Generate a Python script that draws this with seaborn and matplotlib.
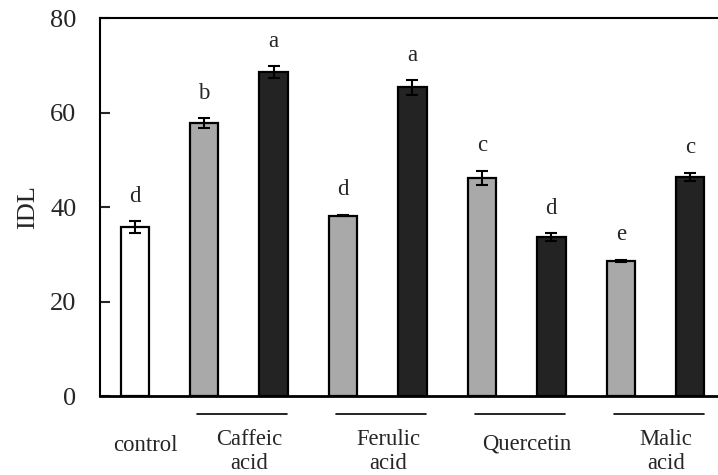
import pandas as pd
import matplotlib
matplotlib.use("Agg")
from matplotlib import pyplot as plt
import seaborn as sns

sns.set_style("white")
plt.rcParams["font.family"] = ["Liberation Serif", "DejaVu Serif"]

# bar data
bars = ["control", "caf_1", "caf_2", "fer_1", "fer_2", "que_1", "que_2", "mal_1", "mal_2"]
kind = ["control", "low", "high", "low", "high", "low", "high", "low", "high"]
idl = [35.8, 57.8, 68.6, 38.2, 65.3, 46.2, 33.6, 28.6, 46.3]
err = [1.2, 1.0, 1.2, 0.2, 1.5, 1.5, 0.8, 0.2, 0.9]
letters = ["d", "b", "a", "d", "a", "c", "d", "e", "c"]

# x axis group labels
group_names = ["Caffeic\nacid", "Ferulic\nacid", "Quercetin", "Malic\nacid"]
group_first_bar = [1, 3, 5, 7]

df = pd.DataFrame({"bar": bars, "kind": kind, "IDL": idl})
colors = {"control": "white", "low": "#a9a9a9", "high": "#232323"}

fig = plt.figure(figsize=(7.18, 4.75), dpi=100)
ax = fig.add_axes([0.1393, 0.1663, 0.8607, 0.7958])

sns.barplot(data=df, x="bar", y="IDL", hue="kind", order=bars, palette=colors,
            dodge=False, width=0.41, edgecolor="black", linewidth=1.6,
            legend=False, ax=ax)
ax.errorbar(range(len(bars)), idl, yerr=err, fmt="none", ecolor="black",
            elinewidth=1.5, capsize=4.5, capthick=1.5)

for i, (v, e, t) in enumerate(zip(idl, err, letters)):
    ax.text(i, v + e + 5.3, t, ha="center", va="center", fontsize=16.5)

ax.set_xlim(-0.5, 8.4)
ax.set_ylim(0, 80)
ax.set_yticks([0, 20, 40, 60, 80])
ax.set_xticks([])
ax.set_xlabel("")
ax.set_ylabel("IDL", fontsize=19, labelpad=8)
ax.tick_params(axis="y", direction="in", length=7, width=1.5, pad=17,
               labelsize=19, left=True)
ax.spines["right"].set_visible(False)
for s in ["left", "top"]:
    ax.spines[s].set_linewidth(1.5)
    ax.spines[s].set_color("black")
ax.spines["bottom"].set_linewidth(2)
ax.spines["bottom"].set_color("black")

trans = ax.get_xaxis_transform()
ax.text(0.16, -0.13, "control", transform=trans, ha="center", va="center", fontsize=16.3)
for name, first in zip(group_names, group_first_bar):
    ax.plot([first - 0.1, first + 1.2], [-0.048, -0.048], color="black",
            lw=1.2, transform=trans, clip_on=False)
    if "\n" in name:
        ax.text(first + 0.65, -0.088, name, transform=trans, ha="center", va="top",
                fontsize=16.3, linespacing=1.2)
    else:
        ax.text(first + 0.65, -0.127, name, transform=trans, ha="center", va="center",
                fontsize=16.3)

fig.savefig("out.png", dpi=100)
